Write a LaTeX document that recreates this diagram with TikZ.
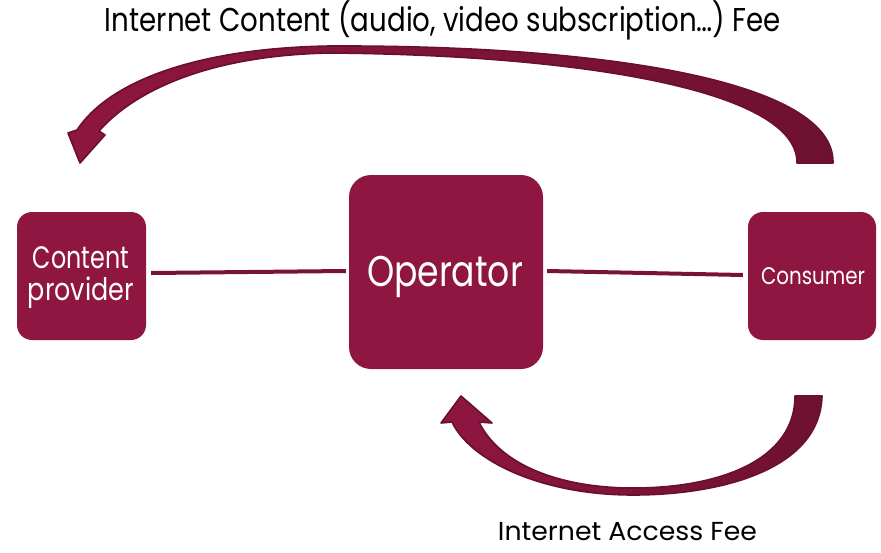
\documentclass[tikz,border=0pt]{standalone}
\usepackage{fontspec}
\setmainfont{Poppins}
\usepackage{graphicx}
\definecolor{boxc}{HTML}{8E1640}
\definecolor{arrline}{HTML}{6A0F2E}
\definecolor{arrdark}{HTML}{6E1131}
\definecolor{linec}{HTML}{7A1236}
\newcommand{\fitt}[3]{\resizebox{#1pt}{\height}{\fontsize{#2}{#2}\selectfont #3}}
\tikzset{
  box/.style={fill=boxc, draw=none, rounded corners=#1, inner sep=0pt},
  lbl/.style={inner sep=0pt, anchor=base},
  wlbl/.style={lbl, text=white},
  conn/.style={draw=linec, line width=4pt},
  bigarrow/.style={left color=boxc, right color=arrdark, draw=arrline, line width=1.6pt, line join=round}
}
\begin{document}
\begin{tikzpicture}[x=1pt,y=-1pt]
\useasboundingbox (0,0) rectangle (881,552);
% boxes
\node[box=15pt, minimum width=129pt, minimum height=128pt] (cp) at (81.5,276) {};
\node[box=22pt, minimum width=194pt, minimum height=194pt] (op) at (446,272) {};
\node[box=15pt, minimum width=128pt, minimum height=128pt] (cs) at (812,276) {};
% texts
\node[wlbl] (cpt1) at (81,268) {\fitt{96}{31}{Content}};
\node[wlbl] (cpt2) at (81,300) {\fitt{106}{31}{provider}};
\node[wlbl] (opt) at (445,286) {\fitt{156}{43}{Operator}};
\node[wlbl] (cst) at (813,284) {\fitt{104}{24}{Consumer}};
\node[lbl] (top) at (443,31) {\fitt{676}{33}{Internet Content (audio, video subscription…) Fee}};
\node[lbl] (bot) at (627.5,540) {\fitt{259}{26}{Internet Access Fee}};
% connectors
\draw[conn] ([xshift=5pt,yshift=3pt]cp.east) -- ([xshift=-3pt,yshift=1pt]op.west);
\draw[conn] ([xshift=4pt,yshift=1pt]op.east) -- ([xshift=-5pt,yshift=1pt]cs.west);
% top curved arrow (consumer -> content provider)
\path[bigarrow] (833,163) .. controls (835,80) and (600,45) .. (330,46)
  .. controls (200,48) and (110,80) .. (77,130)
  -- (68,133) -- (80,163) -- (105,135) -- (99,131)
  .. controls (140,85) and (220,55) .. (330,53)
  .. controls (580,55) and (798,90) .. (797,163) -- cycle;
% bottom curved arrow (consumer -> operator)
\path[bigarrow] (822,396) .. controls (820,470) and (720,495) .. (633,495)
  .. controls (540,495) and (470,460) .. (452,422)
  -- (441,423) -- (461,396) -- (492,423) -- (479,422)
  .. controls (500,465) and (560,488) .. (633,488)
  .. controls (720,488) and (795,460) .. (795,396) -- cycle;
\end{tikzpicture}
\end{document}
